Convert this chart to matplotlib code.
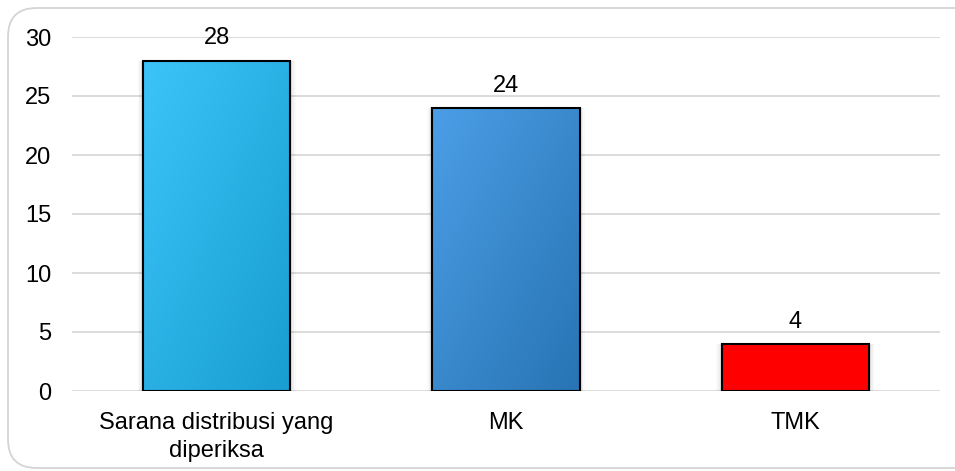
import matplotlib
matplotlib.use("Agg")
import matplotlib.pyplot as plt
import numpy as np
from matplotlib.patches import FancyBboxPatch
from matplotlib.colors import LinearSegmentedColormap

categories = ["Sarana distribusi yang\ndiperiksa", "MK", "TMK"]
values = [28, 24, 4]
yticks = [0, 5, 10, 15, 20, 25, 30]

grad_colors = [("#3cc3f8", "#189ed0"), ("#4b9ee6", "#2874b4"), ("#ff0000", "#ff0000")]

plt.rcParams['font.family'] = ['Liberation Sans', 'DejaVu Sans']
FS = 17

W, H = 955, 471
fig = plt.figure(figsize=(W / 100, H / 100), dpi=100)
# rounded frame
frame = FancyBboxPatch((8 / W, 3 / H), 980 / W, 460 / H, boxstyle="round,pad=0,rounding_size=0.03",
                       transform=fig.transFigure, facecolor="white", edgecolor="#d4d4d4", linewidth=1.3,
                       mutation_aspect=W / H, zorder=-10)
fig.patches.append(frame)

ax = fig.add_axes([72 / W, 1 - 391 / H, (940 - 72) / W, (391 - 37) / H])
ax.set_zorder(5)
ax.set_facecolor("none")
for s in ax.spines.values():
    s.set_visible(False)
ax.set_yticks(yticks)
ax.yaxis.grid(True, color="#d9d9d9", linewidth=1.3)
ax.set_axisbelow(True)
ax.tick_params(length=0, labelsize=FS)
ax.tick_params(axis='y', pad=15)
ax.tick_params(axis='x', pad=15)
ax.set_xticks(range(len(categories)))
ax.set_xticklabels(categories, fontsize=FS, linespacing=1.35)

x = np.arange(len(categories))
bars = ax.bar(x, values, width=0.51, facecolor="none", edgecolor="black", linewidth=1.5, zorder=3)

# gradient fill
gx, gy = np.meshgrid(np.linspace(0, 1, 64), np.linspace(0, 1, 64))
grad = (gx + gy) / 2.0
for i, (b, (c1, c2)) in enumerate(zip(bars, grad_colors)):
    cmap = LinearSegmentedColormap.from_list("g", [c1, c2])
    x0, w, h = b.get_x(), b.get_width(), b.get_height()
    # shadow
    for k, a in enumerate([0.06, 0.04, 0.02]):
        ax.bar(x0 + w / 2, h + 0.15 * (k + 1), width=w + 0.012 * (k + 1), bottom=-0.15 * (k + 1),
               color="black", alpha=a, linewidth=0, zorder=1.5)
    im = ax.imshow(grad, cmap=cmap, extent=[x0, x0 + w, 0, h], origin="upper",
                   aspect="auto", zorder=2, interpolation="bilinear")
    im.set_clip_path(b)
    ax.text(x0 + w / 2, h + 0.95, str(values[i]), ha="center",
            va="bottom", fontsize=FS, zorder=4)

ax.set_xlim(-0.5, 2.5)
ax.set_ylim(0, 30)

fig.savefig("out.png", dpi=100)
